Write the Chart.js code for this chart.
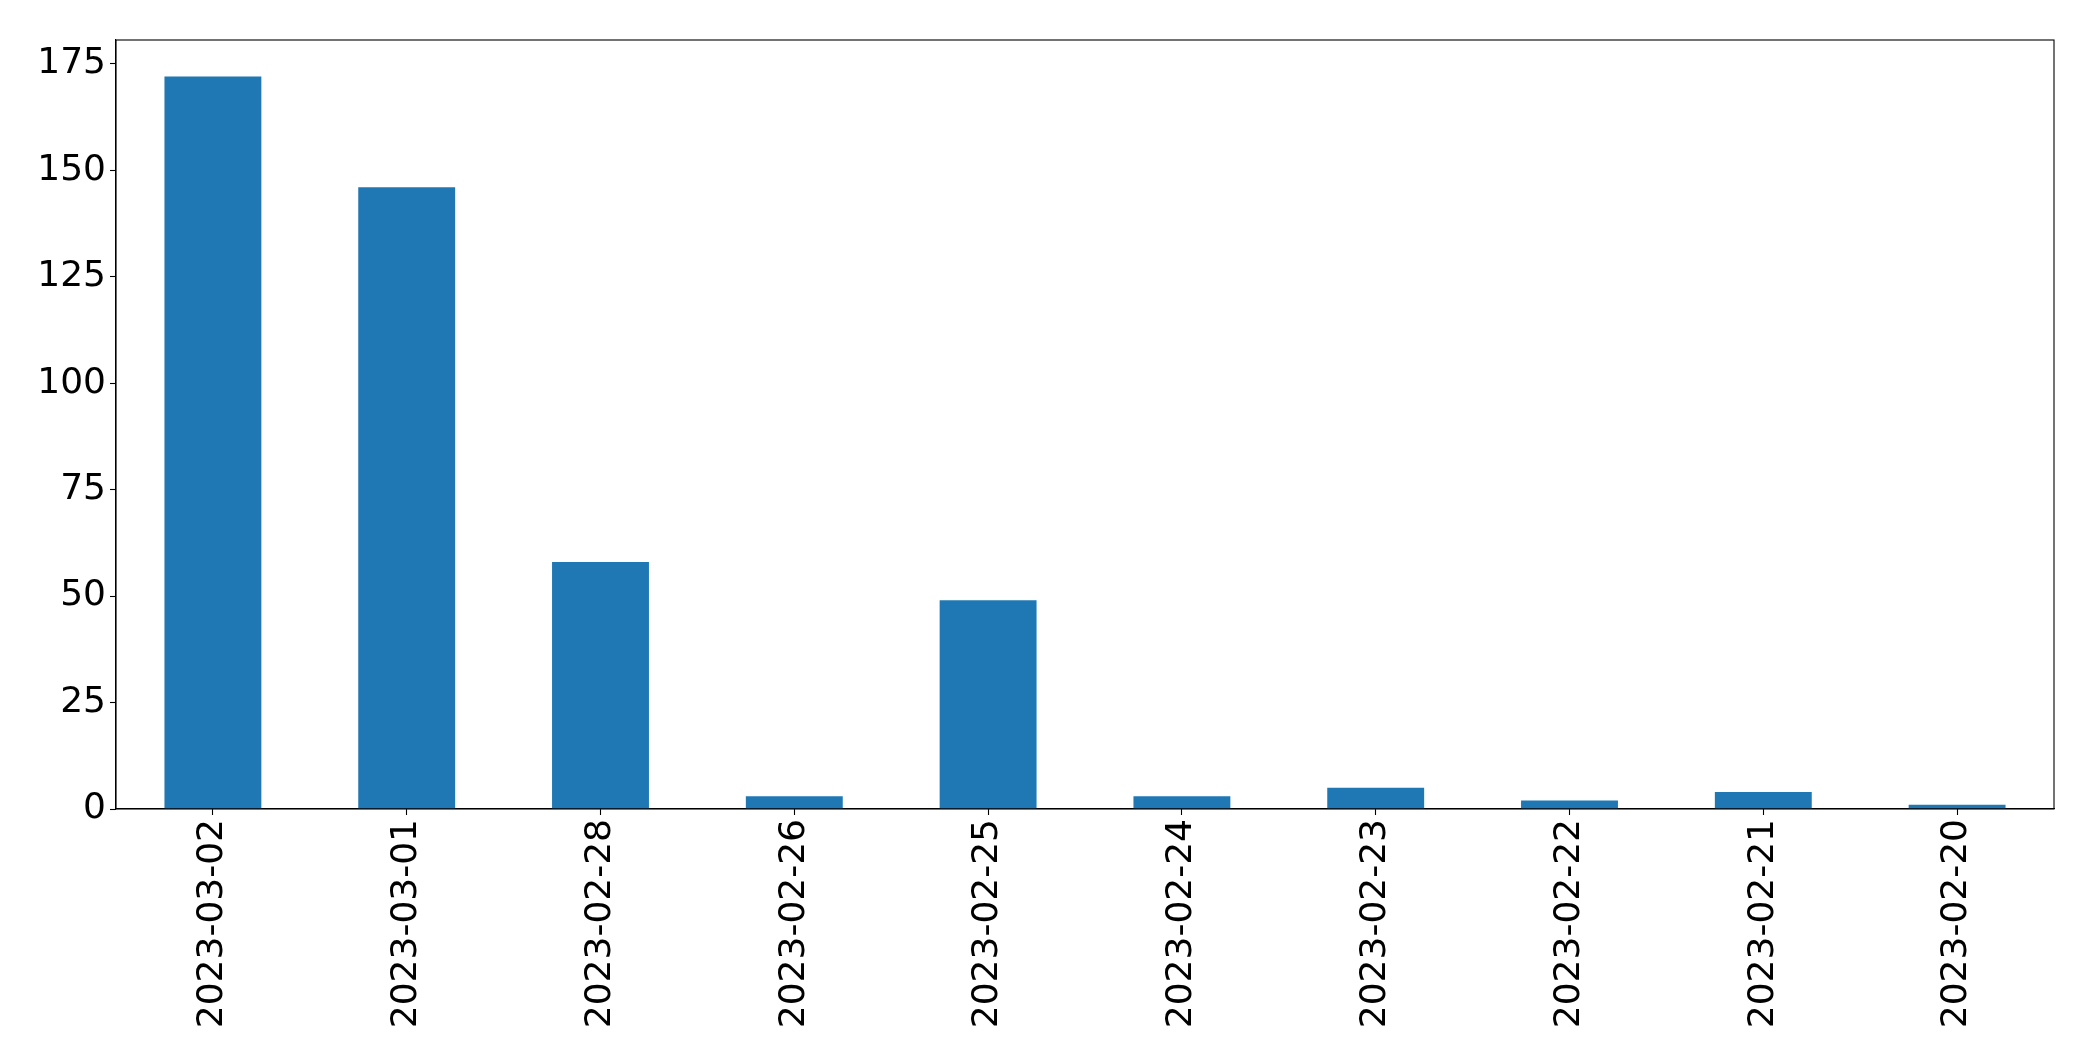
<!DOCTYPE html>
<html>
<head>
<meta charset="utf-8">
<script src="https://cdn.jsdelivr.net/npm/chart.js@4/dist/chart.umd.min.js"></script>
<style>
    html, body { margin: 0; padding: 0; background: #fff; }
    canvas { display: block; }
</style>
</head>
<body>
<canvas id="canvas" width="2093" height="1061"></canvas>
<script>
const dates = ["2023-03-02", "2023-03-01", "2023-02-28", "2023-02-26", "2023-02-25",
    "2023-02-24", "2023-02-23", "2023-02-22", "2023-02-21", "2023-02-20"];
const counts = [172, 146, 58, 3, 49, 3, 5, 2, 4, 1];
const yTicks = [0, 25, 50, 75, 100, 125, 150, 175];

const FONT = {family: "'DejaVu Sans', sans-serif", size: 36};
const BAR_COLOR = "#1f77b4";

function l(element) {
    return document.getElementById(element);
}

// matplotlib style closed box round the plot area
const boxPlugin = {
    id: "box",
    afterDraw(chart) {
        let a = chart.chartArea;
        let ctx = chart.ctx;
        ctx.save();
        ctx.strokeStyle = "#000";
        ctx.lineWidth = 1.1;
        ctx.strokeRect(a.left, a.top, a.right - a.left, a.bottom - a.top);
        ctx.restore();
    }
};

function tickGrid() {
    return {
        offset: false,
        drawOnChartArea: false,
        drawTicks: true,
        tickLength: 6,
        tickColor: "#000",
        tickWidth: 1.1
    };
}

new Chart(l("canvas"), {
    type: "bar",
    data: {
        labels: dates,
        datasets: [{
            data: counts,
            backgroundColor: BAR_COLOR,
            borderWidth: 0,
            barPercentage: 0.5,
            categoryPercentage: 1.0
        }]
    },
    options: {
        responsive: false,
        animation: false,
        layout: {padding: {left: 0, top: 40, right: 39, bottom: 0}},
        plugins: {
            legend: {display: false},
            tooltip: {enabled: false}
        },
        scales: {
            x: {
                grid: tickGrid(),
                border: {display: true, color: "#000", width: 1.1},
                ticks: {
                    color: "#000",
                    font: FONT,
                    padding: 4,
                    minRotation: 90,
                    maxRotation: 90,
                    autoSkip: false
                },
                afterFit(scale) {
                    scale.height = 252;
                }
            },
            y: {
                min: 0,
                max: 180.6,
                grid: tickGrid(),
                border: {display: true, color: "#000", width: 1.1},
                ticks: {
                    color: "#000",
                    font: FONT,
                    padding: 4,
                    stepSize: 25
                },
                afterBuildTicks(scale) {
                    scale.ticks = yTicks.map(v => ({value: v}));
                },
                afterFit(scale) {
                    scale.width = 116;
                }
            }
        }
    },
    plugins: [boxPlugin]
});
</script>
</body>
</html>
